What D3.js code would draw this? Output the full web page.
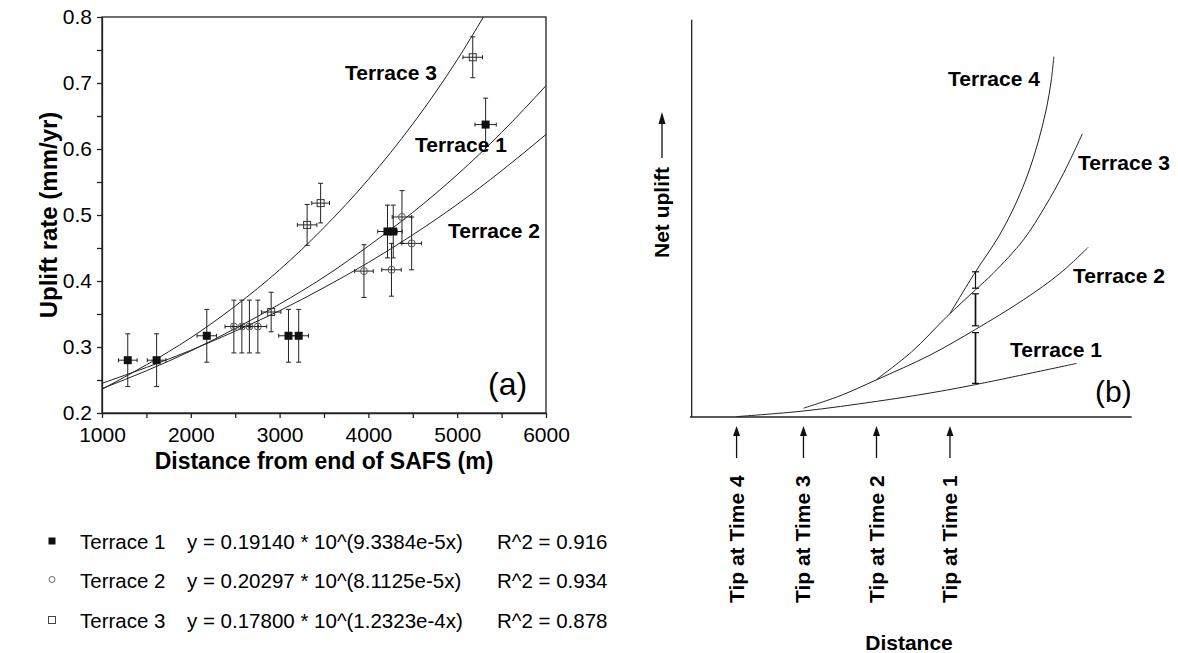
<!DOCTYPE html>
<html>
<head>
<meta charset="utf-8">
<script src="https://cdn.jsdelivr.net/npm/d3@7"></script>
<style>
  body { margin: 0; background: #fff; }
  svg { font-family: "Liberation Sans", Arial, Helvetica, sans-serif; }
</style>
</head>
<body>
<svg id="chart" width="1178" height="653"></svg>
<script>
// ---- panel (a) data ----
const xTicksA = [1000, 1500, 2000, 2500, 3000, 3500, 4000, 4500, 5000, 5500, 6000];
const yTicksA = [0.2, 0.25, 0.3, 0.35, 0.4, 0.45, 0.5, 0.55, 0.6, 0.65, 0.7, 0.75, 0.8];

// [distance (m), uplift (mm/yr), x error, y error]
const terrace1Pts = [
  [1290, 0.280, 105, 0.04], [1615, 0.280, 105, 0.04], [2180, 0.317, 110, 0.04],
  [3100, 0.317, 110, 0.04], [3215, 0.317, 110, 0.04], [4215, 0.475, 110, 0.04],
  [4280, 0.475, 100, 0.04], [5320, 0.637, 120, 0.04]
];
const terrace2Pts = [
  [2485, 0.331, 100, 0.04], [2575, 0.331, 100, 0.04], [2660, 0.331, 100, 0.04],
  [2755, 0.331, 100, 0.04], [3950, 0.415, 105, 0.04], [4260, 0.417, 110, 0.04],
  [4378, 0.497, 110, 0.04], [4487, 0.457, 110, 0.04]
];
const terrace3Pts = [
  [2905, 0.353, 110, 0.03], [3310, 0.485, 110, 0.031],
  [3462, 0.518, 100, 0.03], [5175, 0.739, 110, 0.031]
];

// fitted curves
const fitDist = [1000, 1500, 2000, 2500, 3000, 3500, 4000, 4500, 5000, 5500, 6000];
const fit1 = [0.237, 0.264, 0.294, 0.328, 0.365, 0.406, 0.453, 0.504, 0.561, 0.625, 0.696];
const fit2 = [0.245, 0.269, 0.295, 0.324, 0.355, 0.390, 0.428, 0.470, 0.516, 0.567, 0.622];
const fit3Dist = [1000, 1500, 2000, 2500, 3000, 3500, 4000, 4500, 5000, 5300];
const fit3 = [0.236, 0.273, 0.314, 0.362, 0.417, 0.481, 0.554, 0.638, 0.735, 0.801];

const legendNames = ['Terrace 1', 'Terrace 2', 'Terrace 3'];
const legendEqs = ['y = 0.19140 * 10^(9.3384e-5x)', 'y = 0.20297 * 10^(8.1125e-5x)', 'y = 0.17800 * 10^(1.2323e-4x)'];
const legendR2 = ['R^2 = 0.916', 'R^2 = 0.934', 'R^2 = 0.878'];

// ---- panel (b) data (schematic units 0-100) ----
const sketch1 = [[10.2, 0.1], [25.4, 1.5], [42.0, 3.9], [54.2, 6.0], [64.5, 8.1], [87.5, 13.4]];
const sketch2 = [[25.4, 2.2], [33.7, 5.3], [42.0, 9.3], [54.2, 15.5], [64.5, 21.9], [75.4, 29.3], [83.7, 35.9], [90.1, 42.4]];
const sketch3 = [[42.0, 9.4], [50.0, 16.3], [58.0, 25.1], [64.5, 31.8], [68.5, 35.9], [75.4, 44.3], [80.3, 52.6], [84.5, 60.9], [88.8, 70.8]];
const sketch4 = [[58.7, 25.9], [64.5, 36.3], [69.7, 45.0], [73.5, 53.0], [76.5, 61.0], [78.8, 69.0], [80.6, 77.0], [81.7, 84.0], [82.3, 90.1]];
const tipDist = [10.2, 25.4, 42.0, 58.7];
const tipLabels = ['Tip at Time 4', 'Tip at Time 3', 'Tip at Time 2', 'Tip at Time 1'];
// [distance, top, bottom]
const sketchBars = [[64.5, 36.3, 32.2], [64.5, 30.8, 22.8], [64.5, 21.1, 8.4]];

const svg = d3.select('#chart');

// =============== panel (a) ===============
const xA = d3.scaleLinear().domain([1000, 6000]).range([102, 546]);
const yA = d3.scaleLinear().domain([0.2, 0.8]).range([413, 17]);

svg.append('defs').append('clipPath').attr('id', 'clipA')
  .append('rect').attr('x', 102).attr('y', 17).attr('width', 444).attr('height', 396);

const axB = svg.append('g').attr('transform', 'translate(0,413)')
  .call(d3.axisBottom(xA).tickValues(xTicksA).tickSize(5).tickSizeOuter(0).tickPadding(9)
    .tickFormat(d => d % 1000 === 0 ? d : ''));
const axL = svg.append('g').attr('transform', 'translate(102,0)')
  .call(d3.axisLeft(yA).tickValues(yTicksA).tickSize(5).tickSizeOuter(0).tickPadding(5)
    .tickFormat(d => Math.round(d * 100) % 10 === 0 ? d.toFixed(1) : ''));
[axB, axL].forEach(g => {
  g.selectAll('text').style('font-size', '21px').attr('fill', '#000');
  g.selectAll('line, path').attr('stroke', '#222').attr('stroke-width', 1.3);
});

// frame
svg.append('rect').attr('x', 102).attr('y', 17).attr('width', 444).attr('height', 396)
  .attr('fill', 'none').attr('stroke', '#222').attr('stroke-width', 1.3);

const lineA = d3.line().x(d => xA(d[0])).y(d => yA(d[1])).curve(d3.curveMonotoneX);
const curvesA = svg.append('g').attr('clip-path', 'url(#clipA)');
[[fitDist, fit1], [fitDist, fit2], [fit3Dist, fit3]].forEach(([xs, ys]) => {
  curvesA.append('path')
    .attr('d', lineA(xs.map((x, i) => [x, ys[i]])))
    .attr('fill', 'none').attr('stroke', '#222').attr('stroke-width', 1);
});

// error bars
function drawErrors(pts) {
  const g = svg.append('g').attr('stroke', '#222').attr('stroke-width', 1);
  pts.forEach(p => {
    const cx = xA(p[0]), cy = yA(p[1]);
    const x0 = xA(p[0] - p[2]), x1 = xA(p[0] + p[2]);
    const y0 = yA(p[1] - p[3]), y1 = yA(p[1] + p[3]);
    g.append('line').attr('x1', x0).attr('x2', x1).attr('y1', cy).attr('y2', cy);
    g.append('line').attr('x1', cx).attr('x2', cx).attr('y1', y0).attr('y2', y1);
    g.append('line').attr('x1', x0).attr('x2', x0).attr('y1', cy - 2).attr('y2', cy + 2);
    g.append('line').attr('x1', x1).attr('x2', x1).attr('y1', cy - 2).attr('y2', cy + 2);
    g.append('line').attr('x1', cx - 2.5).attr('x2', cx + 2.5).attr('y1', y0).attr('y2', y0);
    g.append('line').attr('x1', cx - 2.5).attr('x2', cx + 2.5).attr('y1', y1).attr('y2', y1);
  });
}
drawErrors(terrace1Pts);
drawErrors(terrace2Pts);
drawErrors(terrace3Pts);

svg.append('g').selectAll('rect').data(terrace1Pts).join('rect')
  .attr('x', d => xA(d[0]) - 4).attr('y', d => yA(d[1]) - 4)
  .attr('width', 8).attr('height', 8).attr('fill', '#111');
svg.append('g').selectAll('circle').data(terrace2Pts).join('circle')
  .attr('cx', d => xA(d[0])).attr('cy', d => yA(d[1])).attr('r', 3.5)
  .attr('fill', 'none').attr('stroke', '#555').attr('stroke-width', 1);
svg.append('g').selectAll('rect').data(terrace3Pts).join('rect')
  .attr('x', d => xA(d[0]) - 3.5).attr('y', d => yA(d[1]) - 3.5)
  .attr('width', 7).attr('height', 7)
  .attr('fill', 'none').attr('stroke', '#333').attr('stroke-width', 1);

// curve labels
const boldLabel = (x, y, t, size) => svg.append('text').attr('x', x).attr('y', y)
  .style('font-size', (size || 21) + 'px').style('font-weight', 'bold').attr('fill', '#000').text(t);
boldLabel(345, 80, 'Terrace 3');
boldLabel(415, 152, 'Terrace 1');
boldLabel(448, 238, 'Terrace 2');
svg.append('text').attr('x', 488).attr('y', 395).style('font-size', '32px').attr('fill', '#000').text('(a)');

// axis titles
svg.append('text').attr('x', 324).attr('y', 469).attr('text-anchor', 'middle')
  .style('font-size', '23px').style('font-weight', 'bold').attr('fill', '#000')
  .text('Distance from end of SAFS (m)');
svg.append('text').attr('transform', 'translate(57,215) rotate(-90)').attr('text-anchor', 'middle')
  .style('font-size', '24px').style('font-weight', 'bold').attr('fill', '#000')
  .text('Uplift rate (mm/yr)');

// legend
const legRowY = d3.scalePoint().domain(legendNames).range([541, 620]);
legendNames.forEach((name, i) => {
  const cy = legRowY(name);
  if (i === 0) svg.append('rect').attr('x', 48.5).attr('y', cy - 3.5).attr('width', 7).attr('height', 7).attr('fill', '#111');
  if (i === 1) svg.append('circle').attr('cx', 52).attr('cy', cy - 1).attr('r', 3).attr('fill', 'none').attr('stroke', '#666');
  if (i === 2) svg.append('rect').attr('x', 48.5).attr('y', cy - 3.5).attr('width', 7).attr('height', 7).attr('fill', 'none').attr('stroke', '#444');
  [[80, name], [187, legendEqs[i]], [497, legendR2[i]]].forEach(([x, t]) => {
    svg.append('text').attr('x', x).attr('y', cy + 7.5).style('font-size', '20.5px').attr('fill', '#000').text(t);
  });
});

// =============== panel (b) ===============
const xB = d3.scaleLinear().domain([0, 100]).range([691.7, 1131.7]);
const yB = d3.scaleLinear().domain([0, 100]).range([417, 17]);

svg.append('line').attr('x1', xB(0)).attr('x2', xB(0)).attr('y1', yB(99.3)).attr('y2', yB(0))
  .attr('stroke', '#222').attr('stroke-width', 1.3);
svg.append('line').attr('x1', xB(-0.4)).attr('x2', xB(100)).attr('y1', yB(0)).attr('y2', yB(0))
  .attr('stroke', '#222').attr('stroke-width', 1.3);

const lineB = d3.line().x(d => xB(d[0])).y(d => yB(d[1])).curve(d3.curveCatmullRom.alpha(0.5));
[sketch1, sketch2, sketch3, sketch4].forEach(s => {
  svg.append('path').attr('d', lineB(s)).attr('fill', 'none')
    .attr('stroke', '#222').attr('stroke-width', 1);
});

const barG = svg.append('g').attr('stroke', '#111');
sketchBars.forEach((b, i) => {
  const x = xB(b[0]);
  barG.append('line').attr('x1', x).attr('x2', x).attr('y1', yB(b[1])).attr('y2', yB(b[2]))
    .attr('stroke-width', i === 0 ? 1.2 : 1.7);
  [b[1], b[2]].forEach(v => barG.append('line').attr('x1', x - 3.5).attr('x2', x + 3.5)
    .attr('y1', yB(v)).attr('y2', yB(v)).attr('stroke-width', 1.2));
});

boldLabel(948, 86, 'Terrace 4');
boldLabel(1078, 170, 'Terrace 3');
boldLabel(1073, 283, 'Terrace 2');
boldLabel(1010, 357, 'Terrace 1');
svg.append('text').attr('x', 1095).attr('y', 402).style('font-size', '30px').attr('fill', '#000').text('(b)');

// tip arrows and labels
tipDist.forEach((d, i) => {
  const x = xB(d);
  svg.append('line').attr('x1', x).attr('x2', x).attr('y1', 458).attr('y2', 434)
    .attr('stroke', '#111').attr('stroke-width', 1.3);
  svg.append('path').attr('d', `M${x},426 L${x - 3.5},436 L${x + 3.5},436 Z`).attr('fill', '#111');
  svg.append('text').attr('transform', `translate(${x + 7},603) rotate(-90)`)
    .style('font-size', '21px').style('font-weight', 'bold').attr('fill', '#000').text(tipLabels[i]);
});

svg.append('text').attr('x', 909).attr('y', 650).attr('text-anchor', 'middle')
  .style('font-size', '21px').style('font-weight', 'bold').attr('fill', '#000').text('Distance');

// y title with up arrow
svg.append('text').attr('transform', 'translate(669,258) rotate(-90)')
  .style('font-size', '21px').style('font-weight', 'bold').attr('fill', '#000').text('Net uplift');
svg.append('line').attr('x1', 662).attr('x2', 662).attr('y1', 158).attr('y2', 122)
  .attr('stroke', '#111').attr('stroke-width', 1.3);
svg.append('path').attr('d', 'M662,112 L658.5,124 L665.5,124 Z').attr('fill', '#111');
</script>
</body>
</html>
